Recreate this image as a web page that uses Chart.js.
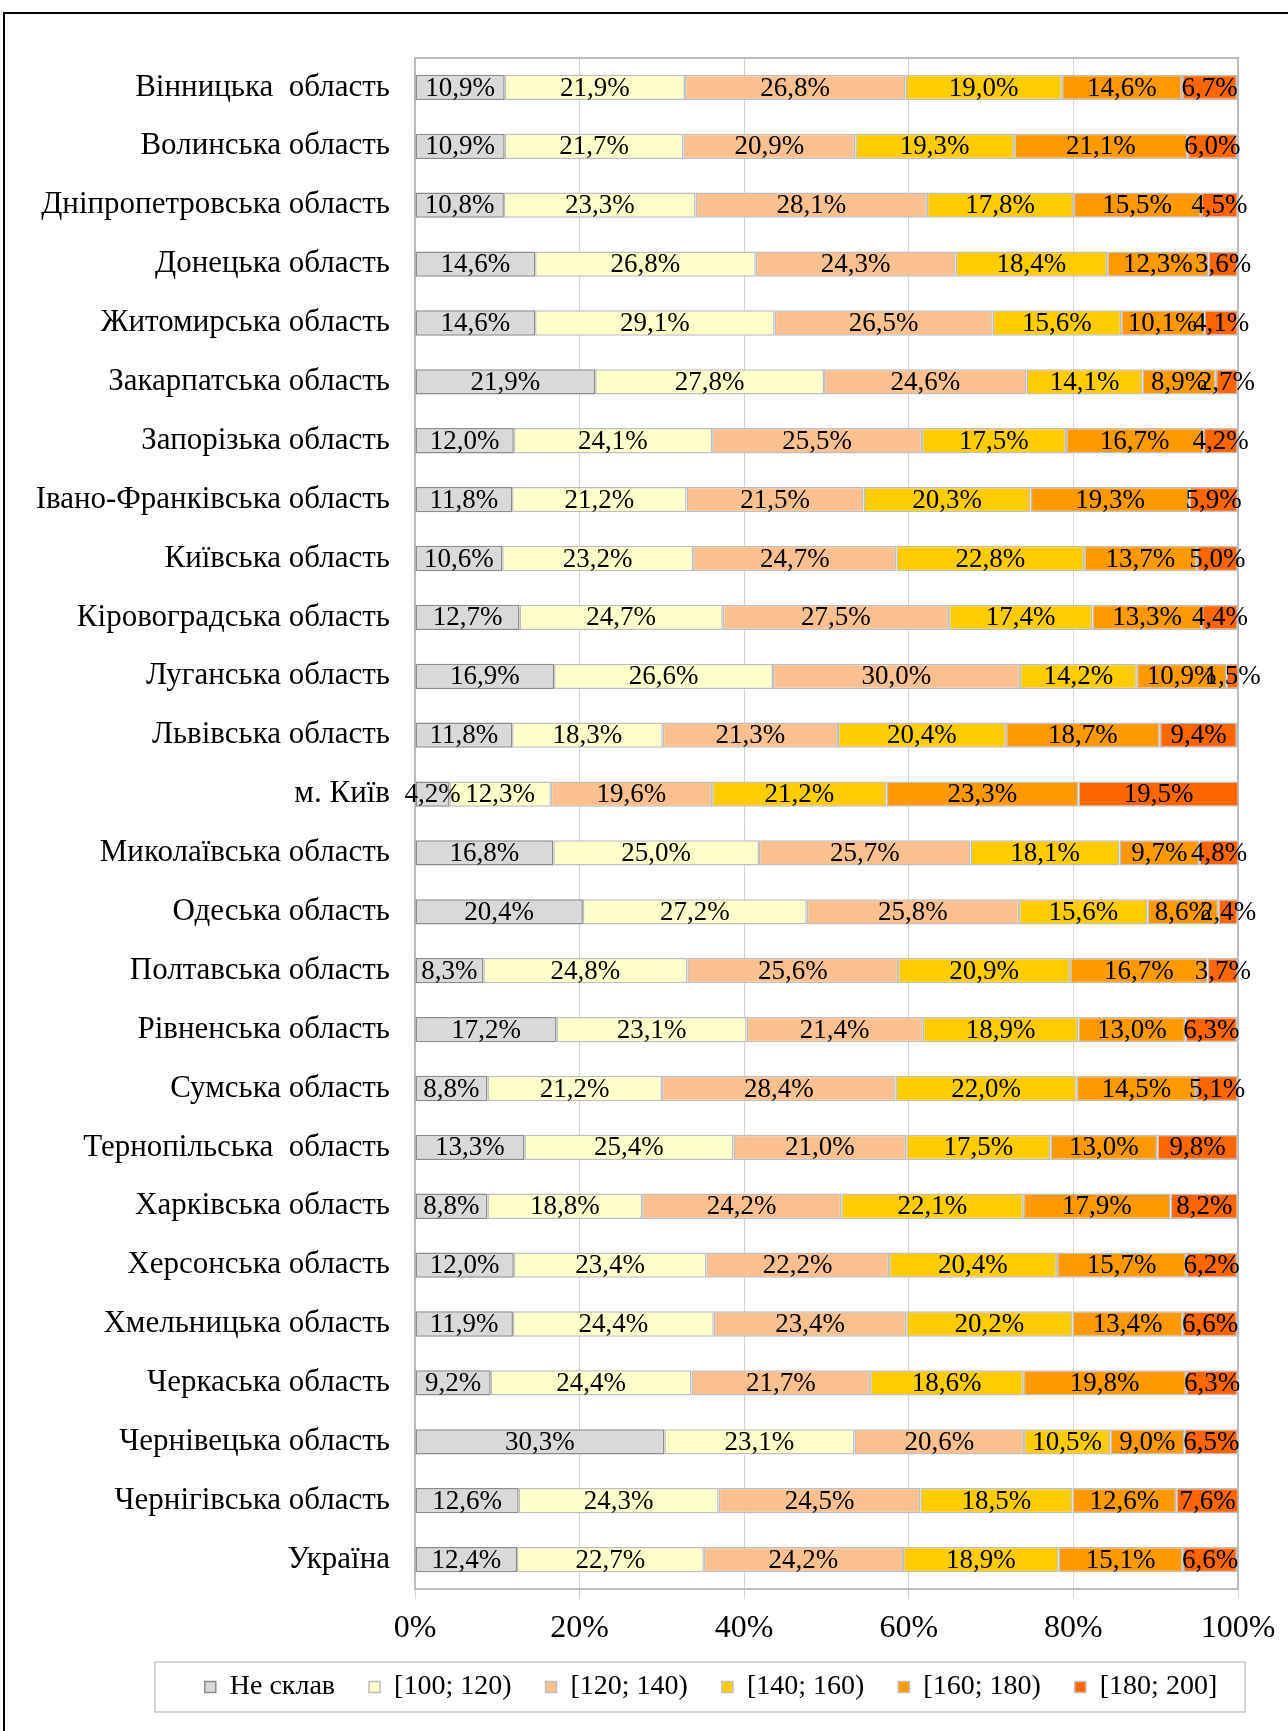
<!DOCTYPE html>
<html>
<head>
<meta charset="utf-8">
<script src="https://cdn.jsdelivr.net/npm/chart.js@4.4.0/dist/chart.umd.min.js"></script>
<style>
  html, body { margin: 0; padding: 0; background: #fff; overflow: hidden; }
  #wrap { position: relative; width: 1288px; height: 1731px; }
  #frame { position: absolute; left: 3px; top: 12px; width: 1300px; height: 1740px; border: 2px solid #000; box-sizing: border-box; }
  #chart { position: absolute; left: 0; top: 0; }
</style>
</head>
<body>
<div id="wrap">
  <div id="frame"></div>
  <canvas id="chart" width="1288" height="1731"></canvas>
</div>
<script>
const categories = [
  'Вінницька  область', 'Волинська область', 'Дніпропетровська область', 'Донецька область',
  'Житомирська область', 'Закарпатська область', 'Запорізька область', 'Івано-Франківська область',
  'Київська область', 'Кіровоградська область', 'Луганська область', 'Львівська область',
  'м. Київ', 'Миколаївська область', 'Одеська область', 'Полтавська область',
  'Рівненська область', 'Сумська область', 'Тернопільська  область', 'Харківська область',
  'Херсонська область', 'Хмельницька область', 'Черкаська область', 'Чернівецька область',
  'Чернігівська область', 'Україна'
];

const seriesNames = ['Не склав', '[100; 120)', '[120; 140)', '[140; 160)', '[160; 180)', '[180; 200]'];

const neSklav  = [10.9, 10.9, 10.8, 14.6, 14.6, 21.9, 12.0, 11.8, 10.6, 12.7, 16.9, 11.8, 4.2, 16.8, 20.4, 8.3, 17.2, 8.8, 13.3, 8.8, 12.0, 11.9, 9.2, 30.3, 12.6, 12.4];
const range100 = [21.9, 21.7, 23.3, 26.8, 29.1, 27.8, 24.1, 21.2, 23.2, 24.7, 26.6, 18.3, 12.3, 25.0, 27.2, 24.8, 23.1, 21.2, 25.4, 18.8, 23.4, 24.4, 24.4, 23.1, 24.3, 22.7];
const range120 = [26.8, 20.9, 28.1, 24.3, 26.5, 24.6, 25.5, 21.5, 24.7, 27.5, 30.0, 21.3, 19.6, 25.7, 25.8, 25.6, 21.4, 28.4, 21.0, 24.2, 22.2, 23.4, 21.7, 20.6, 24.5, 24.2];
const range140 = [19.0, 19.3, 17.8, 18.4, 15.6, 14.1, 17.5, 20.3, 22.8, 17.4, 14.2, 20.4, 21.2, 18.1, 15.6, 20.9, 18.9, 22.0, 17.5, 22.1, 20.4, 20.2, 18.6, 10.5, 18.5, 18.9];
const range160 = [14.6, 21.1, 15.5, 12.3, 10.1, 8.9, 16.7, 19.3, 13.7, 13.3, 10.9, 18.7, 23.3, 9.7, 8.6, 16.7, 13.0, 14.5, 13.0, 17.9, 15.7, 13.4, 19.8, 9.0, 12.6, 15.1];
const range180 = [6.7, 6.0, 4.5, 3.6, 4.1, 2.7, 4.2, 5.9, 5.0, 4.4, 1.5, 9.4, 19.5, 4.8, 2.4, 3.7, 6.3, 5.1, 9.8, 8.2, 6.2, 6.6, 6.3, 6.5, 7.6, 6.6];

const fillColors = ['#d9d9d9', '#ffffcc', '#fac090', '#ffcc00', '#ff9900', '#ff6600'];
const edgeColors = ['#8c8c8c', '#bfbfbf', '#bfbfbf', '#bfbfbf', '#bfbfbf', '#bfbfbf'];

const serif = '"Liberation Serif", "Times New Roman", serif';
const legendFont = 28;
const legendGap = 34;

function pct(v) {
  return v.toFixed(1).replace('.', ',') + '%';
}

// value text in the middle of every segment
const segmentLabels = {
  id: 'segmentLabels',
  afterDatasetsDraw(chart) {
    const ctx = chart.ctx;
    ctx.save();
    ctx.font = '27px ' + serif;
    ctx.fillStyle = '#000';
    ctx.textAlign = 'center';
    ctx.textBaseline = 'middle';
    chart.data.datasets.forEach((ds, i) => {
      chart.getDatasetMeta(i).data.forEach((bar, j) => {
        ctx.fillText(pct(ds.data[j]), (bar.x + bar.base) / 2, bar.y + 1);
      });
    });
    ctx.restore();
  }
};

// plot area outline and the box round the legend
const boxes = {
  id: 'boxes',
  afterLayout(chart) {
    // axis labels reach past their boxes, don't let them get clipped
    chart.scales.y.left = 0;
    chart.scales.x.bottom = chart.height;
  },
  beforeDatasetsDraw(chart) {
    const a = chart.chartArea;
    const ctx = chart.ctx;
    ctx.save();
    ctx.strokeStyle = '#bdbdbd';
    ctx.lineWidth = 2;
    ctx.strokeRect(a.left, a.top, a.right - a.left, a.bottom - a.top);
    ctx.restore();
  },
  afterDraw(chart) {
    const lg = chart.legend;
    const cy = lg.top + legendGap + legendFont / 2;
    const ctx = chart.ctx;
    ctx.save();
    ctx.strokeStyle = '#c8c8c8';
    ctx.lineWidth = 1.5;
    ctx.strokeRect(155, cy - 25, 1090, 50);
    ctx.restore();
  }
};

window.addEventListener('DOMContentLoaded', () => {
  const ctx = document.getElementById('chart').getContext('2d');
  const series = [neSklav, range100, range120, range140, range160, range180];

  new Chart(ctx, {
    type: 'bar',
    data: {
      labels: categories,
      datasets: series.map((d, i) => ({
        label: seriesNames[i],
        data: d,
        backgroundColor: fillColors[i],
        borderColor: edgeColors[i],
        borderWidth: 1.5,
        borderSkipped: false,
        categoryPercentage: 0.43,
        barPercentage: 1
      }))
    },
    options: {
      indexAxis: 'y',
      responsive: false,
      animation: false,
      layout: { padding: { top: 58, left: 134, right: 0, bottom: 20 } },
      plugins: {
        tooltip: { enabled: false },
        legend: {
          position: 'bottom',
          labels: {
            color: '#000',
            font: { family: serif, size: legendFont },
            boxWidth: 11,
            boxHeight: 11,
            padding: legendGap
          }
        }
      },
      scales: {
        x: {
          stacked: true,
          min: 0,
          max: 100,
          ticks: {
            stepSize: 20,
            color: '#000',
            padding: 10,
            font: { family: serif, size: 32 },
            callback: v => v + '%'
          },
          grid: { color: '#d4d4d4', lineWidth: 1, tickLength: 10 },
          border: { display: false },
          afterFit: s => { s.height = 50; s.paddingLeft = 0; s.paddingRight = 50; }
        },
        y: {
          stacked: true,
          ticks: {
            color: '#000',
            padding: 17,
            autoSkip: false,
            font: { family: serif, size: 31 }
          },
          grid: { display: false },
          border: { display: false },
          afterFit: s => { s.width = 281; }
        }
      }
    },
    plugins: [segmentLabels, boxes]
  });
});
</script>
</body>
</html>
